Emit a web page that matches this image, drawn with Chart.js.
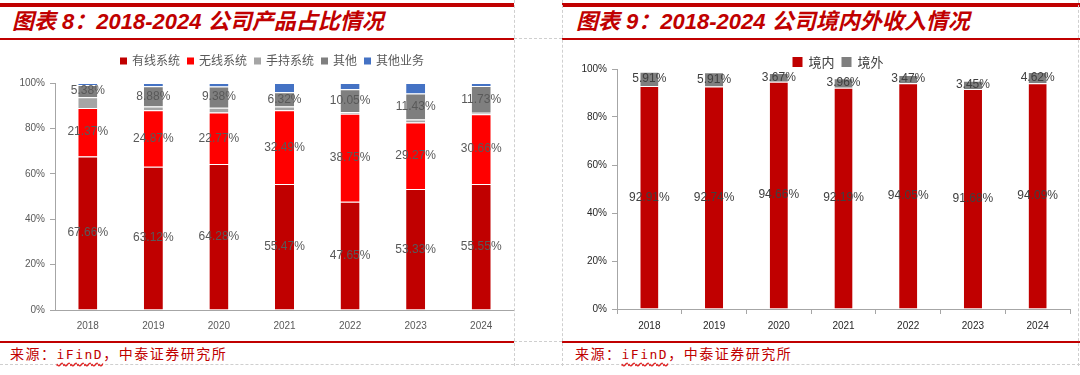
<!DOCTYPE html>
<html>
<head>
<meta charset="utf-8">
<script src="https://cdn.jsdelivr.net/npm/chart.js@4.4.1/dist/chart.umd.min.js"></script>
<style>
  body { margin: 0; width: 1080px; height: 375px; background: #fff; position: relative; overflow: hidden; }
  .abs { position: absolute; }
  .redbar { background: #c00000; height: 4px; top: 3px; }
  .redline { background: #c00000; height: 1.5px; }
  .vdash { top: 0; height: 366px; width: 0; border-left: 1px dashed #cfcfcf; }
  .hdash { height: 0; border-top: 1px dashed #cfcfcf; }
  .title { top: 9px; font: italic bold 22px "Liberation Sans", "Noto Sans CJK SC", sans-serif; color: #c00000; line-height: 26px; white-space: nowrap; }
  .src { top: 344px; font: 14px "Noto Sans CJK SC", sans-serif; color: #c00000; letter-spacing: 1.5px; line-height: 18px; white-space: nowrap; }
  .src span { font-family: "DejaVu Sans Mono", monospace; font-size: 13px; text-decoration: underline wavy #e02020; text-underline-offset: 3px; }
  .box { position: absolute; top: 40px; height: 300px; }
</style>
</head>
<body>
<div class="abs redbar" style="left:0;width:514px"></div>
<div class="abs redbar" style="left:562px;width:518px"></div>
<div class="abs redline" style="left:0;width:514px;top:38px"></div>
<div class="abs redline" style="left:562px;width:518px;top:38px"></div>
<div class="abs hdash" style="left:514px;width:48px;top:38px"></div>
<div class="abs redline" style="left:0;width:514px;top:341px"></div>
<div class="abs redline" style="left:562px;width:518px;top:341px"></div>
<div class="abs hdash" style="left:514px;width:48px;top:341px"></div>
<div class="abs hdash" style="left:0;width:1080px;top:364px"></div>
<div class="abs vdash" style="left:514px"></div>
<div class="abs vdash" style="left:562px"></div>
<div class="abs vdash" style="left:1078px"></div>

<div class="abs title" style="left:12px">图表 8：2018-2024 公司产品占比情况</div>
<div class="abs title" style="left:576px">图表 9：2018-2024 公司境内外收入情况</div>
<div class="abs src" style="left:10px">来源：<span>iFinD</span>，中泰证券研究所</div>
<div class="abs src" style="left:575px">来源：<span>iFinD</span>，中泰证券研究所</div>

<div class="box" style="left:0;width:514px"><canvas id="left"></canvas></div>
<div class="box" style="left:562px;width:518px"><canvas id="right"></canvas></div>

<script>
const years = ['2018', '2019', '2020', '2021', '2022', '2023', '2024'];

// 图表 8 公司产品占比 (%)
const wired    = [67.66, 63.12, 64.28, 55.47, 47.65, 53.33, 55.55];
const wireless = [21.37, 24.87, 22.77, 32.49, 38.75, 29.27, 30.66];
const handheld = [4.70, 1.67, 2.05, 1.66, 0.80, 1.30, 0.70];
const other    = [5.38, 8.88, 9.38, 6.32, 10.05, 11.43, 11.73];
const otherBiz = [0.89, 1.46, 1.52, 4.06, 2.75, 4.67, 1.36];

// 图表 9 境内外收入 (%)
const domestic = [92.91, 92.74, 94.66, 92.19, 94.05, 91.68, 94.09];
const overseas = [5.91, 5.91, 3.67, 3.96, 3.47, 3.45, 4.62];

const yTicks = [0, 20, 40, 60, 80, 100];

const FONT = '"Liberation Sans", "Noto Sans CJK SC", sans-serif';

// value labels in the middle of each segment
const valueLabels = {
  id: 'valueLabels',
  afterDatasetsDraw(chart, args, opts) {
    const ctx = chart.ctx;
    ctx.save();
    ctx.font = opts.size + 'px ' + FONT;
    ctx.fillStyle = opts.color;
    ctx.textAlign = 'center';
    ctx.textBaseline = 'middle';
    chart.data.datasets.forEach((ds, i) => {
      if (!ds.showValue) return;
      chart.getDatasetMeta(i).data.forEach((bar, j) => {
        ctx.fillText(ds.data[j].toFixed(2) + '%', bar.x, (bar.y + bar.base) / 2);
      });
    });
    ctx.restore();
  }
};

// simple square legend row
const boxLegend = {
  id: 'boxLegend',
  afterDraw(chart, args, opts) {
    const ctx = chart.ctx;
    const items = chart.data.datasets;
    ctx.save();
    ctx.font = opts.size + 'px ' + FONT;
    let total = 0;
    items.forEach((ds, i) => {
      total += opts.box + opts.textGap + ctx.measureText(ds.label).width;
      if (i < items.length - 1) total += opts.itemGap;
    });
    let x = opts.centerX - total / 2;
    ctx.textBaseline = 'middle';
    items.forEach(ds => {
      ctx.fillStyle = ds.backgroundColor;
      ctx.fillRect(x, opts.y - opts.box / 2, opts.box, opts.box);
      x += opts.box + opts.textGap;
      ctx.fillStyle = opts.color;
      ctx.fillText(ds.label, x, opts.y + 1);
      x += ctx.measureText(ds.label).width + opts.itemGap;
    });
    ctx.restore();
  }
};

function segment(label, data, color, showValue, pct) {
  return {
    label: label,
    data: data,
    backgroundColor: color,
    borderColor: '#ffffff',
    borderWidth: { top: 1, left: 0, right: 0, bottom: 0 },
    borderSkipped: false,
    barPercentage: 1,
    categoryPercentage: pct,
    showValue: showValue
  };
}

function axes(tickColor, lineColor, xTicksMarks, xPad) {
  return {
    x: {
      stacked: true,
      grid: { display: xTicksMarks, drawOnChartArea: false, drawTicks: xTicksMarks, tickLength: 5, color: lineColor },
      border: { display: true, color: lineColor },
      ticks: { color: tickColor, font: { size: 10, family: FONT }, padding: xPad },
      afterFit: s => { s.height = 30; }
    },
    y: {
      stacked: true,
      min: 0,
      max: 100,
      afterBuildTicks: s => { s.ticks = yTicks.map(v => ({ value: v })); },
      grid: { drawOnChartArea: false, tickLength: 5, color: lineColor },
      border: { display: true, color: lineColor },
      ticks: { color: tickColor, font: { size: 10, family: FONT }, padding: 5, callback: v => v + '%' },
      afterFit: s => { s.width = 55; }
    }
  };
}

new Chart(document.getElementById('left'), {
  type: 'bar',
  data: {
    labels: years,
    datasets: [
      segment('有线系统', wired, '#c00000', true, 0.29),
      segment('无线系统', wireless, '#ff0000', true, 0.29),
      segment('手持系统', handheld, '#a5a5a5', false, 0.29),
      segment('其他', other, '#7f7f7f', true, 0.29),
      segment('其他业务', otherBiz, '#4472c4', false, 0.29)
    ]
  },
  options: {
    responsive: true,
    maintainAspectRatio: false,
    animation: false,
    layout: { padding: { top: 43, left: 0, right: 0, bottom: 0 } },
    scales: axes('#595959', '#a6a6a6', false, 10),
    plugins: {
      legend: { display: false },
      tooltip: { enabled: false },
      valueLabels: { size: 12, color: '#595959' },
      boxLegend: { centerX: 272, y: 21, size: 12, box: 7, textGap: 5, itemGap: 7, color: '#595959' }
    }
  },
  plugins: [valueLabels, boxLegend]
});

const rightScales = axes('#262626', '#a6a6a6', true, 6);
rightScales.x.afterFit = s => { s.height = 31; };

new Chart(document.getElementById('right'), {
  type: 'bar',
  data: {
    labels: years,
    datasets: [
      segment('境内', domestic, '#c00000', true, 0.28),
      segment('境外', overseas, '#7f7f7f', true, 0.28)
    ]
  },
  options: {
    responsive: true,
    maintainAspectRatio: false,
    animation: false,
    layout: { padding: { top: 29, left: 0, right: 10, bottom: 0 } },
    scales: rightScales,
    plugins: {
      legend: { display: false },
      tooltip: { enabled: false },
      valueLabels: { size: 12, color: '#404040' },
      boxLegend: { centerX: 276, y: 22, size: 13, box: 10, textGap: 6, itemGap: 7, color: '#404040' }
    }
  },
  plugins: [valueLabels, boxLegend]
});
</script>
</body>
</html>
